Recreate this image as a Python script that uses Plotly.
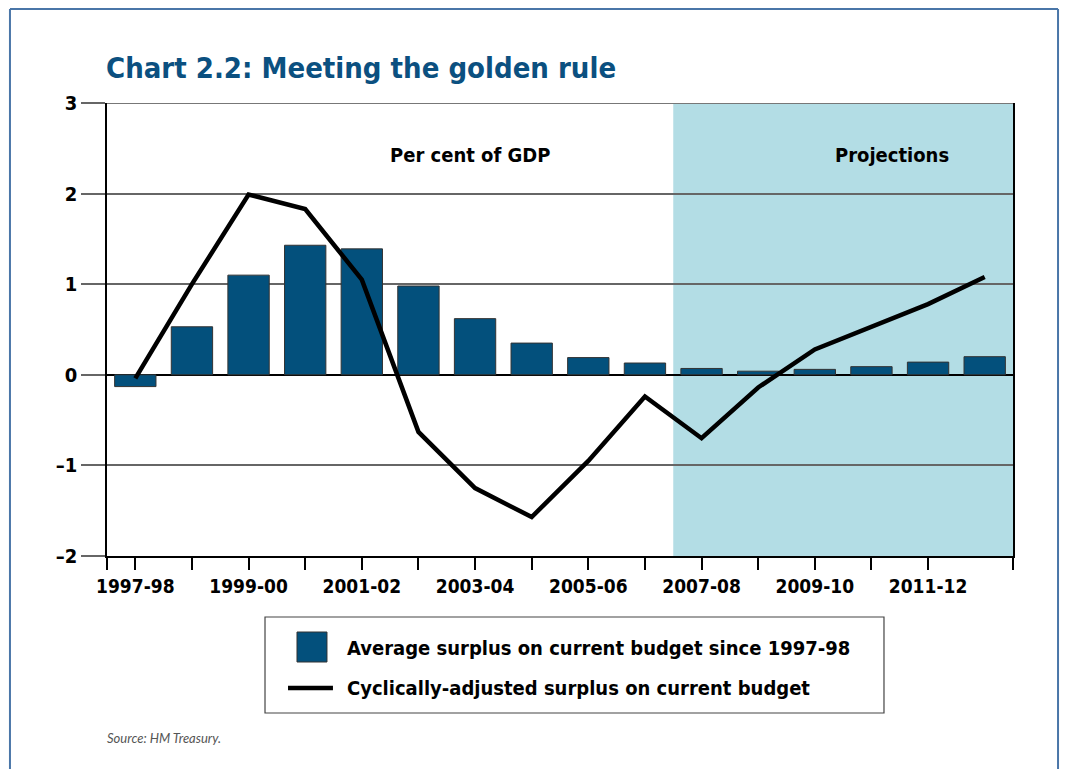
import plotly.graph_objects as go

categories = ["1997-98", "1998-99", "1999-00", "2000-01", "2001-02", "2002-03", "2003-04",
              "2004-05", "2005-06", "2006-07", "2007-08", "2008-09", "2009-10", "2010-11",
              "2011-12", "2012-13"]
avg_surplus = [-0.13, 0.53, 1.10, 1.43, 1.39, 0.98, 0.62, 0.35, 0.19, 0.13, 0.07, 0.04, 0.06, 0.09, 0.14, 0.20]
cyc_surplus = [-0.04, 1.00, 1.99, 1.83, 1.05, -0.63, -1.25, -1.57, -0.95, -0.24, -0.70, -0.14, 0.28, 0.53, 0.78, 1.08]
y_ticks = [-2, -1, 0, 1, 2, 3]
y_ticktext = ["\u20132", "\u20131", "0", "1", "2", "3"]
series_names = ["Average surplus on current budget since 1997-98",
                "Cyclically-adjusted surplus on current budget"]
projection_start = 9.5

FONT = "DejaVu Sans Condensed, Liberation Sans Narrow, sans-serif"
BAR = "#03507c"
SHADE = "#b3dde5"
FRAME = "#4a76a8"

idx = list(range(len(categories)))

fig = go.Figure()
fig.add_trace(go.Bar(x=idx, y=avg_surplus, width=0.73, marker=dict(color=BAR, line=dict(color="#333333", width=1)),
                     name=series_names[0], showlegend=False))
fig.add_trace(go.Scatter(x=idx, y=cyc_surplus, mode="lines", line=dict(color="black", width=4.5),
                         name=series_names[1], showlegend=False))

tickvals = [-0.5] + idx[:-1] + [len(categories) - 0.5]
ticktext = [""] + [c if i % 2 == 0 else "" for i, c in enumerate(categories[:-1])] + [""]

FX0, FX1, FY1, FY0 = -0.1071, 1.0497, 1.2075, -0.6
shapes = [
    dict(type="rect", xref="x", yref="y", x0=projection_start, x1=len(categories) - 0.5, y0=-2, y1=3,
         fillcolor=SHADE, line=dict(width=0), layer="below"),
    dict(type="line", xref="paper", yref="y", x0=0, x1=1, y0=3, y1=3, line=dict(color="#777777", width=2)),
    # legend box
    dict(type="rect", xref="paper", yref="paper", x0=0.1744, x1=0.8576, y0=-0.1347, y1=-0.3466,
         line=dict(color="#444444", width=1.2), fillcolor="white"),
    dict(type="rect", xref="paper", yref="paper", x0=0.2097, x1=0.2428, y0=-0.1678, y1=-0.2340,
         line=dict(color="#333333", width=1), fillcolor=BAR),
    dict(type="line", xref="paper", yref="paper", x0=0.1998, x1=0.2494, y0=-0.2914, y1=-0.2914,
         line=dict(color="black", width=4.5)),
    # outer frame
    dict(type="line", xref="paper", yref="paper", x0=FX0, x1=FX0, y0=FY0, y1=FY1, line=dict(color=FRAME, width=2)),
    dict(type="line", xref="paper", yref="paper", x0=FX1, x1=FX1, y0=FY0, y1=FY1, line=dict(color=FRAME, width=2)),
    dict(type="line", xref="paper", yref="paper", x0=FX0, x1=FX1, y0=FY1, y1=FY1, line=dict(color=FRAME, width=2)),
]

annotations = [
    dict(text="Chart 2.2: Meeting the golden rule", xref="paper", yref="paper", x=-0.003, y=1.0773,
         xanchor="left", yanchor="middle", showarrow=False,
         font=dict(family=FONT, size=29, color="#0b5080", weight="bold")),
    dict(text="Per cent of GDP", xref="x", yref="y", x=5.91, y=2.43, showarrow=False,
         font=dict(family=FONT, size=20, color="black", weight="bold")),
    dict(text="Projections", xref="x", yref="y", x=13.36, y=2.43, showarrow=False,
         font=dict(family=FONT, size=20, color="black", weight="bold")),
    dict(text=series_names[0], xref="paper", yref="paper", x=0.2627, y=-0.2031, xanchor="left",
         yanchor="middle", showarrow=False, font=dict(family=FONT, size=20, color="black", weight="bold")),
    dict(text=series_names[1], xref="paper", yref="paper", x=0.2627, y=-0.2914, xanchor="left",
         yanchor="middle", showarrow=False, font=dict(family=FONT, size=20, color="black", weight="bold")),
    dict(text="<i>Source: HM Treasury.</i>", xref="paper", yref="paper", x=-0.0022, y=-0.4018,
         xanchor="left", yanchor="middle", showarrow=False,
         font=dict(family="Lato, sans-serif", size=13, color="#555555")),
]

fig.update_layout(
    width=1061, height=761,
    margin=dict(l=99, r=56, t=95, b=213),
    paper_bgcolor="white", plot_bgcolor="white",
    showlegend=False,
    shapes=shapes, annotations=annotations,
    font=dict(family=FONT, color="black"),
)
fig.update_xaxes(range=[-0.5, len(categories) - 0.5], tickvals=tickvals, ticktext=ticktext,
                 ticks="outside", ticklen=12, tickwidth=1.5, tickcolor="black",
                 showline=True, linecolor="black", linewidth=1.5, showgrid=False, zeroline=False,
                 tickfont=dict(family=FONT, size=19, color="black", weight="bold"))
fig.update_yaxes(range=[-2, 3], tickvals=y_ticks, ticktext=y_ticktext,
                 ticks="outside", ticklen=24, tickwidth=1.5, tickcolor="#666666",
                 showline=True, linecolor="black", linewidth=1.5, mirror=True,
                 showgrid=True, gridcolor="#666666", gridwidth=1.5,
                 zeroline=True, zerolinecolor="black", zerolinewidth=1.5,
                 tickfont=dict(family=FONT, size=20, color="black", weight="bold"))

fig.write_html("out.html")
